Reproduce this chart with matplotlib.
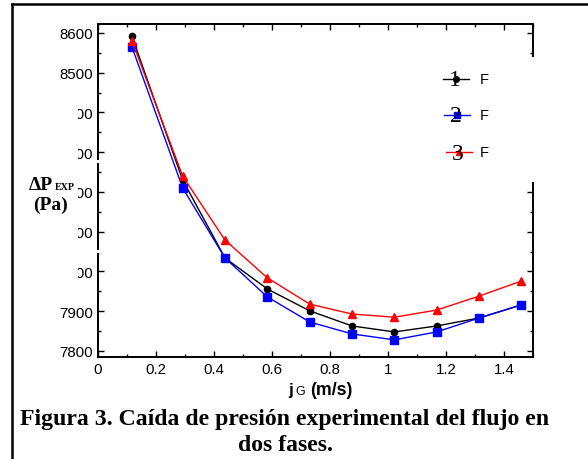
import matplotlib
matplotlib.use("Agg")
import matplotlib.pyplot as plt
from matplotlib.patches import Rectangle
from matplotlib.lines import Line2D
from matplotlib.ticker import MultipleLocator

W, H = 588, 460
jg = [0.117, 0.292, 0.438, 0.584, 0.730, 0.876, 1.022, 1.168, 1.314, 1.460]
dp1 = [8592, 8230, 8034, 7956, 7901, 7863, 7848, 7863, 7883, 7916]
dp2 = [8565, 8210, 8034, 7936, 7873, 7843, 7828, 7848, 7883, 7916]
dp3 = [8581, 8240, 8079, 7984, 7918, 7893, 7885, 7903, 7938, 7976]
series_labels = ["F", "F", "F"]
series_nums = ["1", "2", "3"]
colors = ["black", "blue", "red"]
markers = ["o", "s", "^"]
msizes = [4.5, 5.5, 5.5]
xticks = [0, 0.2, 0.4, 0.6, 0.8, 1.0, 1.2, 1.4]
xticklabels = ["0", "0.2", "0.4", "0.6", "0.8", "1", "1.2", "1.4"]
yticks = [7800, 7900, 8000, 8100, 8200, 8300, 8400, 8500, 8600]
caption1 = "Figura 3. Caída de presión experimental del flujo en"
caption2 = "dos fases."

fig = plt.figure(figsize=(W / 100, H / 100), dpi=100)

def fx(x):
    return x / W

def fy(y):
    return 1 - y / H

ax = fig.add_axes([fx(98), fy(358), (533 - 98) / W, (358 - 25) / H])
for i, d in enumerate([dp1, dp2, dp3]):
    ax.plot(jg, d, color=colors[i], marker=markers[i], ms=msizes[i], lw=1.0, zorder=3 + i)
ax.set_xlim(0, 1.5)
ax.set_ylim(7784.9, 8622.6)
ax.set_xticks(xticks)
ax.set_xticklabels(xticklabels)
ax.set_yticks(yticks)
ax.xaxis.set_minor_locator(MultipleLocator(0.1))
ax.yaxis.set_minor_locator(MultipleLocator(50))
ax.tick_params(which="both", direction="in", top=True, right=True, width=1)
ax.tick_params(which="major", length=4, labelsize=10.8, pad=3.5)
ax.tick_params(which="minor", length=2.5)
for lab in ax.get_xticklabels() + ax.get_yticklabels():
    lab.set_fontfamily("Liberation Sans")
for s in ax.spines.values():
    s.set_linewidth(1.4)

# x label
fig.text(fx(288), fy(395), "j", fontsize=12.5, fontweight="bold", family="Liberation Sans", ha="left", va="baseline")
fig.text(fx(295), fy(395), "G", fontsize=9, family="Liberation Sans", ha="left", va="baseline")
fig.text(fx(310), fy(395), "(m/s)", fontsize=12.8, fontweight="bold", family="Liberation Sans", ha="left", va="baseline")

# white occluders
fig.add_artist(Rectangle((fx(20), fy(292)), (78 - 20) / W, (292 - 92) / H, transform=fig.transFigure,
                         facecolor="white", edgecolor="none", zorder=10))
fig.add_artist(Rectangle((fx(95), fy(164)), 7 / W, 3 / H, transform=fig.transFigure,
                         facecolor="white", edgecolor="none", zorder=10))
fig.add_artist(Rectangle((fx(95), fy(254)), 7 / W, 3 / H, transform=fig.transFigure,
                         facecolor="white", edgecolor="none", zorder=10))
fig.add_artist(Rectangle((fx(420), fy(183)), (W - 420) / W, (183 - 58) / H, transform=fig.transFigure,
                         facecolor="white", edgecolor="none", zorder=10))

# y label
fig.text(fx(29), fy(190), "ΔP", fontsize=14, fontweight="bold", family="Liberation Serif",
         ha="left", va="baseline", zorder=11)
fig.text(fx(55), fy(190), "EXP", fontsize=7.2, fontweight="bold", family="Liberation Serif",
         ha="left", va="baseline", zorder=11)
fig.text(fx(50), fy(210), "(Pa)", fontsize=14, fontweight="bold", family="Liberation Serif",
         ha="center", va="baseline", zorder=11)

# legend
leg_y = [80, 116, 153]
leg_x0 = [443, 444, 446]
for i in range(3):
    y = fy(leg_y[i])
    x0 = fx(leg_x0[i])
    x1 = fx(leg_x0[i] + 26)
    fig.add_artist(Line2D([x0, x1], [y, y], transform=fig.transFigure, color=colors[i], lw=1.0, zorder=12))
    fig.add_artist(Line2D([(x0 + x1) / 2], [y], transform=fig.transFigure, color=colors[i],
                          marker=markers[i], ms=msizes[i] - 0.5, lw=0, zorder=13))
    fig.text(fx(leg_x0[i] + 12), fy(leg_y[i] + 1), series_nums[i], fontsize=17, family="Liberation Serif",
             ha="center", va="center", zorder=14)
    fig.text(fx(480), y, series_labels[i], fontsize=10.5, family="Liberation Sans",
             ha="left", va="center", zorder=14)

# caption
fig.text(fx(285), fy(420), caption1, fontsize=17.1, fontweight="bold", family="Liberation Serif",
         ha="center", va="center")
fig.text(fx(285), fy(446), caption2, fontsize=17.1, fontweight="bold", family="Liberation Serif",
         ha="center", va="center")

# outer frame
fig.add_artist(Line2D([fx(12), fx(12)], [fy(5), 0], transform=fig.transFigure, color="black", lw=1.8))
fig.add_artist(Line2D([fx(12), 1], [fy(5), fy(5)], transform=fig.transFigure, color="black", lw=1.8))

fig.savefig("out.png", dpi=100)
